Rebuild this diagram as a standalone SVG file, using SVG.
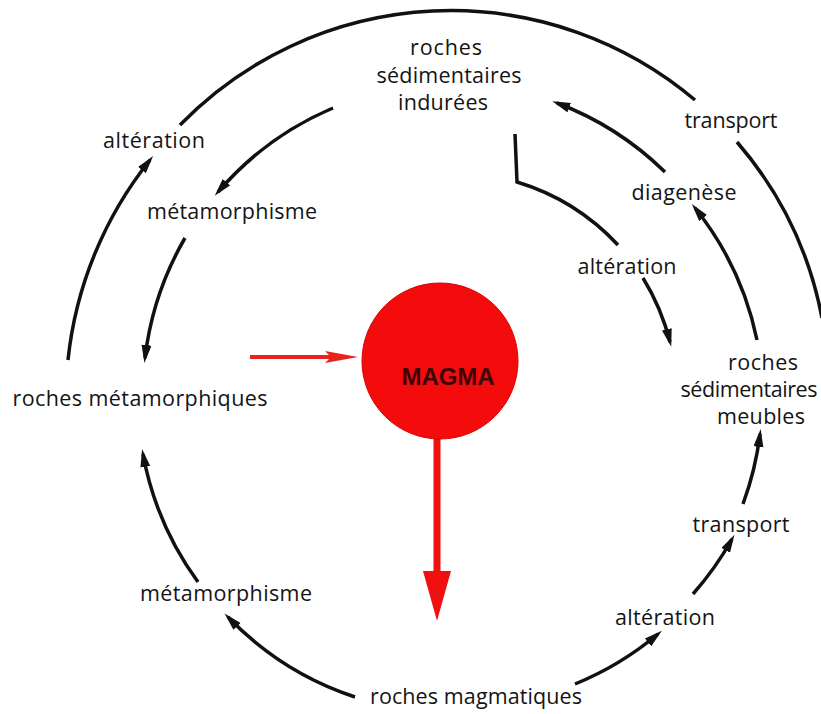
<svg xmlns="http://www.w3.org/2000/svg" width="821" height="714" viewBox="0 0 821 714">
<defs>
<marker id="ah" markerUnits="userSpaceOnUse" markerWidth="20" markerHeight="12" refX="13" refY="5" orient="auto">
<path d="M0,0 L18,5 L0,10 z" fill="#111"/>
</marker>
<style>
.lbl{font-family:"Open Sans","Liberation Sans",sans-serif;font-size:21.5px;fill:#141414;text-anchor:middle}
.arc{fill:none;stroke:#111;stroke-width:3.5}
.arr{fill:none;stroke:#111;stroke-width:3.5;marker-end:url(#ah)}
</style>
</defs>
<rect width="821" height="714" fill="#fff"/>
<g id="connectors">
<path class="arc" d="M180,125 A378,378 0 0 1 695,100"/>
<path class="arc" d="M737,142 A378,378 0 0 1 822,318"/>
<path class="arr" d="M68,360 A385,385 0 0 1 150,160"/>
<path class="arr" d="M333,108 A312,312 0 0 0 218,192"/>
<path class="arr" d="M185,238 A312,312 0 0 0 145,358"/>
<path class="arr" d="M665,172 A312,312 0 0 0 557,103"/>
<path class="arr" d="M757,340 A312,312 0 0 0 695,208"/>
<path class="arc" d="M515,134 L517,182 A228,228 0 0 1 618,245"/>
<path class="arr" d="M643,278 A228,228 0 0 1 670,342"/>
<path class="arr" d="M355,697 A312,312 0 0 1 228,617"/>
<path class="arr" d="M198,582 A312,312 0 0 1 143,454"/>
<path class="arr" d="M575,684 A312,312 0 0 0 658,634"/>
<path class="arr" d="M693,594 A312,312 0 0 0 732,539"/>
<path class="arr" d="M743,504 A312,312 0 0 0 760,434"/>
<line x1="250" y1="357" x2="335" y2="357" stroke="#e8231c" stroke-width="4"/>
<polygon points="325,351 358,357 325,363 331,357" fill="#e8231c"/>
<line x1="437" y1="435" x2="437" y2="580" stroke="#f01010" stroke-width="7"/>
<polygon points="423,571 451,571 437,621" fill="#f01010"/>
</g>
<g id="magma">
<circle cx="440" cy="361" r="78" fill="#f40b0b" stroke="#d80000" stroke-width="1"/>
<text x="448" y="385" font-family="'Liberation Sans',Arial,sans-serif" font-weight="bold" font-size="24" fill="#3a0606" text-anchor="middle" textLength="93">MAGMA</text>
</g>
<g id="roches-sed-indurees">
<text class="lbl" x="446" y="55" textLength="72">roches</text>
<text class="lbl" x="449" y="83" textLength="145">sédimentaires</text>
<text class="lbl" x="443" y="110" textLength="90">indurées</text>
</g>
<g id="transport-top"><text class="lbl" x="731" y="128" textLength="93">transport</text></g>
<g id="diagenese"><text class="lbl" x="684" y="200" textLength="105">diagenèse</text></g>
<g id="alteration-right"><text class="lbl" x="627" y="274" textLength="99">altération</text></g>
<g id="alteration-left"><text class="lbl" x="154" y="148" textLength="102">altération</text></g>
<g id="metamorphisme-top"><text class="lbl" x="232" y="219" textLength="170">métamorphisme</text></g>
<g id="roches-metamorphiques"><text class="lbl" x="140" y="406" textLength="255">roches métamorphiques</text></g>
<g id="metamorphisme-bottom"><text class="lbl" x="226" y="601" textLength="172">métamorphisme</text></g>
<g id="roches-magmatiques"><text class="lbl" x="476" y="704" textLength="212">roches magmatiques</text></g>
<g id="alteration-bottom"><text class="lbl" x="665" y="625" textLength="100">altération</text></g>
<g id="transport-bottom"><text class="lbl" x="741" y="532" textLength="97">transport</text></g>
<g id="roches-sed-meubles">
<text class="lbl" x="763" y="370" textLength="70">roches</text>
<text class="lbl" x="749" y="397" textLength="137">sédimentaires</text>
<text class="lbl" x="761" y="424" textLength="88">meubles</text>
</g>
</svg>
